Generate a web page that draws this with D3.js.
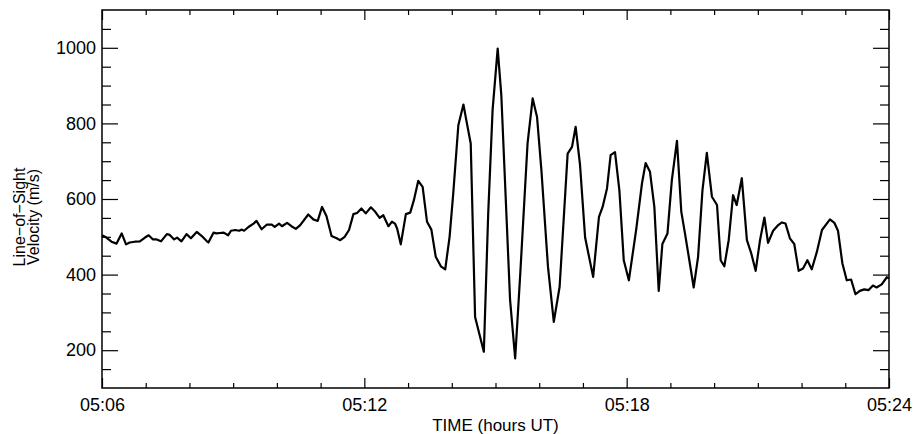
<!DOCTYPE html>
<html>
<head>
<meta charset="utf-8">
<script src="https://cdn.jsdelivr.net/npm/d3@7"></script>
<style>
  body { margin: 0; background: #fff; }
  svg text { font-family: "Liberation Sans", Arial, sans-serif; fill: #000; }
  .axis path { display: none; }
  .axis line { stroke: #000; stroke-width: 1.2; }
</style>
</head>
<body>
<div id="graph"></div>
<script>
// seconds after 05:06:00 UT
var seconds = [0, 6, 13, 20, 27, 33, 38, 45, 52, 59, 64, 70, 75, 81, 89, 93, 99, 103, 109, 116,
  122, 130, 137, 144, 146, 153, 157, 162, 167, 173, 177, 183, 188, 192, 195, 201, 208, 212, 219, 226,
  233, 237, 243, 247, 254, 260, 266, 272, 283, 290, 296, 302, 308, 315, 322, 327, 333, 339, 345, 350,
  356, 362, 369, 375, 381, 386, 393, 398, 402, 405, 410, 417, 423, 428, 434, 440, 446, 452, 458, 465,
  471, 477, 482, 489, 496, 500, 506, 512, 524, 530, 536, 543, 548, 560, 567, 574, 584, 591, 597, 603,
  612, 620, 628, 639, 645, 650, 656, 663, 674, 682, 687, 693, 698, 704, 710, 716, 723, 733, 741, 746,
  752, 758, 764, 769, 776, 782, 789, 795, 800, 806, 812, 818, 824, 830, 837, 844, 849, 854, 860, 866,
  871, 878, 885, 891, 897, 903, 909, 914, 921, 928, 933, 938, 944, 950, 956, 962, 968, 974, 981, 988,
  999, 1005, 1010, 1016, 1022, 1028, 1034, 1040, 1046, 1052, 1058, 1063, 1070, 1077, 1080];

// line-of-sight velocity, m/s
var velocity = [504, 498, 487, 482, 509, 480, 485, 487, 488, 498, 504, 493, 493, 488, 507, 505, 493, 498, 488, 507,
  496, 513, 502, 488, 485, 511, 509, 510, 511, 504, 516, 518, 516, 519, 516, 526, 535, 542, 520, 532,
  532, 526, 535, 528, 537, 528, 521, 531, 559, 546, 542, 579, 555, 502, 496, 491, 500, 518, 560, 563,
  575, 562, 578, 566, 550, 557, 528, 540, 535, 522, 480, 560, 564, 597, 648, 632, 540, 519, 447, 422,
  414, 500, 614, 795, 850, 808, 747, 288, 196, 562, 835, 998, 874, 333, 178, 403, 747, 866, 817, 676,
  421, 275, 368, 720, 738, 791, 690, 498, 394, 553, 579, 628, 716, 724, 623, 438, 385, 518, 641, 695,
  672, 579, 357, 481, 509, 650, 754, 566, 509, 438, 366, 447, 623, 722, 606, 584, 438, 422, 491, 610,
  584, 655, 491, 456, 410, 491, 551, 484, 516, 531, 538, 535, 496, 481, 410, 416, 438, 414, 460, 518,
  546, 537, 516, 430, 385, 387, 348, 357, 361, 359, 371, 366, 374, 393, 390];

var yMajor = [200, 400, 600, 800, 1000];
var yMinor = [150, 250, 300, 350, 450, 500, 550, 650, 700, 750, 850, 900, 950, 1050];
var xMajor = [0, 360, 720, 1080];
var xMajorLabels = ["05:06", "05:12", "05:18", "05:24"];
var xMinor = [60, 120, 180, 240, 300, 420, 480, 540, 600, 660, 780, 840, 900, 960, 1020];

var width = 915, height = 434;
var margin = { top: 10, left: 102, bottom: 46, right: 26 };
var chartWidth = width - margin.left - margin.right;
var chartHeight = height - margin.top - margin.bottom;

var svg = d3.select("#graph").append("svg")
  .attr("width", width)
  .attr("height", height);

var chart = svg.append("g")
  .attr("transform", "translate(" + [margin.left, margin.top] + ")");

var xScale = d3.scaleLinear().domain([0, 1080]).range([0, chartWidth]);
var yScale = d3.scaleLinear().domain([100, 1100]).range([chartHeight, 0]);

// ticks point into the plot on all four sides
function addAxis(axis, transform) {
  chart.append("g")
    .attr("class", "axis")
    .attr("transform", transform)
    .call(axis)
    .selectAll("text")
    .style("font-size", "18px");
}

addAxis(d3.axisLeft(yScale).tickValues(yMajor).tickSize(-16).tickPadding(6).tickFormat(d3.format("d")), null);
addAxis(d3.axisLeft(yScale).tickValues(yMinor).tickSize(-9).tickFormat(""), null);
addAxis(d3.axisRight(yScale).tickValues(yMajor).tickSize(-16).tickFormat(""), "translate(" + chartWidth + ",0)");
addAxis(d3.axisRight(yScale).tickValues(yMinor).tickSize(-9).tickFormat(""), "translate(" + chartWidth + ",0)");

addAxis(d3.axisBottom(xScale).tickValues(xMajor).tickSize(-10).tickPadding(10)
  .tickFormat(function(d, i) { return xMajorLabels[i]; }), "translate(0," + chartHeight + ")");
addAxis(d3.axisBottom(xScale).tickValues(xMinor).tickSize(-5).tickFormat(""), "translate(0," + chartHeight + ")");
addAxis(d3.axisTop(xScale).tickValues(xMajor).tickSize(-10).tickFormat(""), null);
addAxis(d3.axisTop(xScale).tickValues(xMinor).tickSize(-5).tickFormat(""), null);

chart.append("rect")
  .attr("width", chartWidth)
  .attr("height", chartHeight)
  .attr("fill", "none")
  .attr("stroke", "#000")
  .attr("stroke-width", 1.5);

var line = d3.line()
  .x(function(d) { return xScale(d[0]); })
  .y(function(d) { return yScale(d[1]); });

chart.append("path")
  .datum(d3.zip(seconds, velocity))
  .attr("fill", "none")
  .attr("stroke", "#000")
  .attr("stroke-width", 2.2)
  .attr("stroke-linejoin", "round")
  .attr("d", line);

// axis titles
svg.append("text")
  .attr("x", margin.left + chartWidth / 2)
  .attr("y", 431)
  .attr("text-anchor", "middle")
  .style("font-size", "17px")
  .text("TIME (hours UT)");

var yTitle = svg.append("text")
  .attr("transform", "translate(" + [0, 217] + ")rotate(-90)")
  .attr("text-anchor", "middle")
  .style("font-size", "16px");
yTitle.append("tspan").attr("x", 0).attr("y", 25).text("Line\u2212of\u2212Sight");
yTitle.append("tspan").attr("x", 0).attr("y", 39).text("Velocity (m/s)");
</script>
</body>
</html>
